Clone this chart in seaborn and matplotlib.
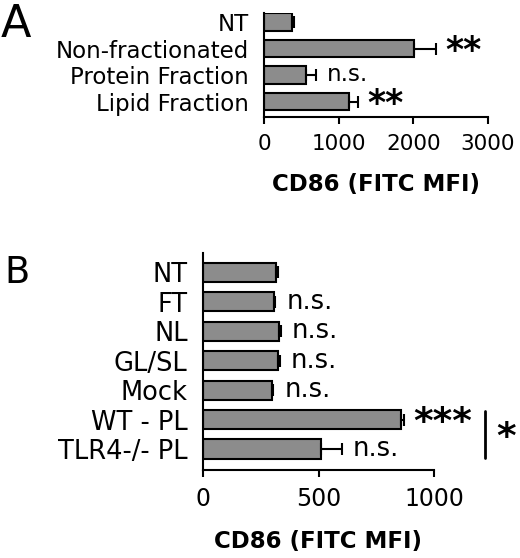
import numpy as np
import pandas as pd
import matplotlib
matplotlib.use("Agg")
import matplotlib.pyplot as plt
import seaborn as sns

# panel A data
a_groups = ["NT", "Non-fractionated", "Protein Fraction", "Lipid Fraction"]
a_mean = [375, 2010, 560, 1140]
a_err = [30, 290, 135, 120]
a_sig = ["", "**", "n.s.", "**"]
a_ticks = [0, 1000, 2000, 3000]

# panel B data
b_groups = ["NT", "FT", "NL", "GL/SL", "Mock", "WT - PL", "TLR4-/- PL"]
b_mean = [316, 307, 329, 324, 299, 857, 510]
b_err = [10, 6, 8, 8, 5, 13, 90]
b_sig = ["", "n.s.", "n.s.", "n.s.", "n.s.", "***", "n.s."]
b_ticks = [0, 500, 1000]

sns.set_style("ticks")
plt.rcParams["font.family"] = ["DejaVu Sans"]
plt.rcParams["axes.linewidth"] = 1.5
for key in ["text.color", "axes.labelcolor", "xtick.color", "ytick.color", "axes.edgecolor"]:
    plt.rcParams[key] = "black"

BAR_COLOR = "#8c8c8c"
STAR_DROP = 0.37   # asterisk centre sits ~0.37 em above baseline
NS_DROP = 0.27


def draw_panel(ax, groups, means, errs, sigs, ticks, lab_fs, tick_fs, star_fs, ns_fs, ylim):
    df = pd.DataFrame({"group": groups, "mean": means})
    sns.barplot(data=df, x="mean", y="group", orient="h", color=BAR_COLOR,
                edgecolor="black", linewidth=1.5, width=0.65, errorbar=None,
                saturation=1, ax=ax)
    pos = np.arange(len(groups))
    ax.errorbar(means, pos, xerr=[np.zeros(len(errs)), errs], fmt="none",
                ecolor="black", elinewidth=1.5, capsize=4.5, capthick=1.5, zorder=5)
    for i, (m, e, s) in enumerate(zip(means, errs, sigs)):
        if not s:
            continue
        if s.startswith("*"):
            ax.annotate(s, xy=(m + e, i), xytext=(7, -STAR_DROP * star_fs),
                        textcoords="offset points", ha="left", va="baseline",
                        fontsize=star_fs, fontweight="bold")
        else:
            ax.annotate(s, xy=(m + e, i), xytext=(8, -NS_DROP * ns_fs),
                        textcoords="offset points", ha="left", va="baseline",
                        fontsize=ns_fs)
    ax.set_xlim(ticks[0], ticks[-1])
    ax.set_xticks(ticks)
    ax.set_ylim(*ylim)
    sns.despine(ax=ax)
    ax.tick_params(axis="y", length=0, pad=11, labelsize=lab_fs)
    ax.tick_params(axis="x", length=5, width=1.5, pad=7, labelsize=tick_fs)
    ax.set_ylabel("")
    ax.set_xlabel("CD86 (FITC MFI)", fontsize=16.5, fontweight="bold", labelpad=14)


fig = plt.figure(figsize=(5.2, 5.58), dpi=100)
ax_a = fig.add_axes([264 / 520, 1 - 117 / 558, 224 / 520, 104 / 558])
ax_b = fig.add_axes([203 / 520, 1 - 470 / 558, 231 / 520, 217 / 558])

draw_panel(ax_a, a_groups, a_mean, a_err, a_sig, a_ticks,
           lab_fs=16.5, tick_fs=15.5, star_fs=25, ns_fs=16.5, ylim=(3.58, -0.34))
draw_panel(ax_b, b_groups, b_mean, b_err, b_sig, b_ticks,
           lab_fs=18.5, tick_fs=17, star_fs=27, ns_fs=18.5, ylim=(6.71, -0.65))

# bracket comparing WT - PL and TLR4-/- PL
ax_b.plot([1221, 1221], [4.7, 6.3], color="black", lw=2, clip_on=False)
ax_b.annotate("*", xy=(1221, 5.5), xytext=(8, -STAR_DROP * 27), textcoords="offset points",
              ha="left", va="baseline", fontsize=27, fontweight="bold",
              annotation_clip=False)

fig.text(1 / 520, 1 - 37 / 558, "A", fontsize=32, va="baseline", ha="left")
fig.text(4 / 520, 1 - 283 / 558, "B", fontsize=26.5, va="baseline", ha="left")

fig.savefig("out.png", dpi=100)
